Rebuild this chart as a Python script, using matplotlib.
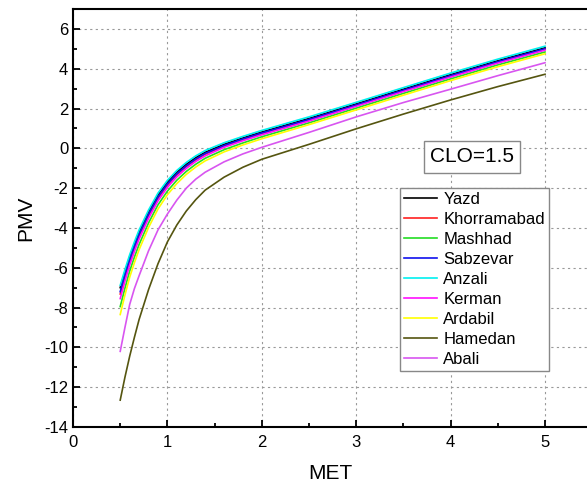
import matplotlib
matplotlib.use("Agg")
import matplotlib.pyplot as plt
from matplotlib.ticker import MultipleLocator

plt.rcParams['font.family'] = ['Liberation Sans', 'DejaVu Sans']
plt.rcParams['axes.unicode_minus'] = False

# MET values
met = [0.5, 0.55, 0.6, 0.65, 0.7, 0.8, 0.9, 1.0, 1.1, 1.2, 1.3, 1.4, 1.6, 1.8, 2.0, 2.5, 3.0, 3.5, 4.0, 4.5, 5.0]

# PMV per city
yazd = [-7.0, -6.2, -5.45, -4.8, -4.2, -3.2, -2.35, -1.7, -1.2, -0.8, -0.47, -0.2, 0.2, 0.52, 0.82, 1.5, 2.23, 2.97, 3.7, 4.4, 5.05]
khorramabad = [-7.32, -6.48, -5.69, -5.02, -4.41, -3.39, -2.52, -1.85, -1.33, -0.92, -0.58, -0.3, 0.11, 0.44, 0.74, 1.43, 2.16, 2.9, 3.63, 4.33, 4.98]
mashhad = [-7.95, -7.03, -6.17, -5.47, -4.83, -3.75, -2.84, -2.15, -1.6, -1.16, -0.8, -0.5, -0.07, 0.27, 0.58, 1.28, 2.02, 2.76, 3.49, 4.19, 4.84]
sabzevar = [-7.2, -6.37, -5.6, -4.94, -4.33, -3.32, -2.45, -1.79, -1.28, -0.88, -0.54, -0.26, 0.14, 0.47, 0.77, 1.45, 2.18, 2.92, 3.65, 4.35, 5.0]
anzali = [-6.88, -6.09, -5.35, -4.7, -4.1, -3.1, -2.25, -1.61, -1.11, -0.71, -0.38, -0.11, 0.28, 0.6, 0.9, 1.58, 2.31, 3.05, 3.78, 4.48, 5.13]
kerman = [-7.55, -6.68, -5.87, -5.19, -4.56, -3.52, -2.64, -1.96, -1.43, -1.01, -0.66, -0.38, 0.05, 0.38, 0.68, 1.37, 2.11, 2.85, 3.58, 4.28, 4.93]
ardabil = [-8.35, -7.37, -6.48, -5.75, -5.09, -3.98, -3.05, -2.33, -1.77, -1.31, -0.94, -0.63, -0.18, 0.17, 0.48, 1.19, 1.93, 2.67, 3.4, 4.1, 4.75]
hamedan = [-12.65, -11.5, -10.45, -9.5, -8.6, -7.1, -5.8, -4.7, -3.85, -3.15, -2.58, -2.1, -1.45, -0.95, -0.55, 0.2, 0.98, 1.72, 2.43, 3.1, 3.72]
abali = [-10.2, -9.0, -7.85, -7.05, -6.4, -5.15, -4.1, -3.3, -2.6, -2.0, -1.55, -1.2, -0.68, -0.28, 0.05, 0.8, 1.58, 2.3, 2.97, 3.65, 4.3]

cities = ['Yazd', 'Khorramabad', 'Mashhad', 'Sabzevar', 'Anzali', 'Kerman', 'Ardabil', 'Hamedan', 'Abali']
series = [yazd, khorramabad, mashhad, sabzevar, anzali, kerman, ardabil, hamedan, abali]
colors = ['#000000', '#ff2020', '#22dd22', '#1010ee', '#00f0f0', '#ff10ff', '#ffff00', '#555510', '#d855f0']

fig = plt.figure(figsize=(5.87, 4.88), dpi=100)
ax = fig.add_axes([0.1244, 0.125, 0.8756, 0.8566])

for name, vals, c in zip(cities, series, colors):
    ax.plot(met, vals, color=c, lw=1.2, label=name)

ax.set_xlim(0, 5.445)
ax.set_ylim(-14, 7)
ax.xaxis.set_major_locator(MultipleLocator(1))
ax.xaxis.set_minor_locator(MultipleLocator(0.5))
ax.yaxis.set_major_locator(MultipleLocator(2))
ax.yaxis.set_minor_locator(MultipleLocator(1))
ax.tick_params(which='both', direction='in', labelsize=12, width=1.3, top=False, right=False)
ax.tick_params(which='major', length=5)
ax.tick_params(which='minor', length=3)
ax.tick_params(axis='x', pad=6)

for s in ['left', 'bottom', 'top']:
    ax.spines[s].set_linewidth(1.5)
ax.spines['right'].set_visible(False)

ax.grid(True, which='major', color='#999999', lw=0.8, ls=(0, (2, 3)))

ax.set_xlabel('MET', fontsize=15, labelpad=10)
ax.set_ylabel('PMV', fontsize=15, labelpad=6)

ax.text(0.776, 0.646, 'CLO=1.5', transform=ax.transAxes, fontsize=15,
        ha='center', va='center',
        bbox=dict(boxstyle='square,pad=0.3', fc='white', ec='#888888', lw=1))

leg = ax.legend(loc='upper left', bbox_to_anchor=(0.636, 0.572), borderaxespad=0,
                fontsize=12, handlelength=2.0, handletextpad=0.35, labelspacing=0.3,
                borderpad=0.25, fancybox=False, framealpha=1, edgecolor='#888888')
leg.get_frame().set_linewidth(1)

fig.savefig('out.png', dpi=100)
